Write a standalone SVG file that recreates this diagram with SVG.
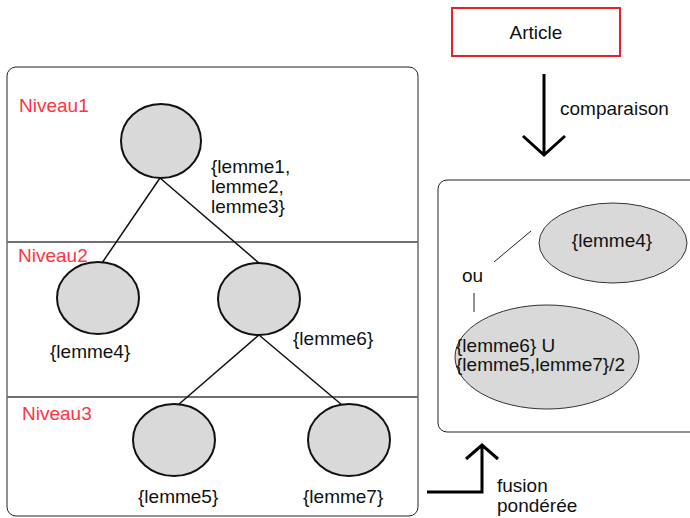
<svg xmlns="http://www.w3.org/2000/svg" width="690" height="518" viewBox="0 0 690 518">
<defs>
<style>
text{font-family:"Liberation Sans",Arial,sans-serif;font-size:19px;fill:#111}
.lvl{fill:#ff3340}
.node{fill:#d9d9d9;stroke:#111;stroke-width:2}
.res{fill:#d9d9d9;stroke:#333;stroke-width:1}
.edge{stroke:#111;stroke-width:1.5;fill:none}
.big{stroke:#000;stroke-width:3;fill:none}
.div{stroke:#707070;stroke-width:2}
</style>
</defs>
<rect width="690" height="518" fill="#fff"/>
<g id="panel-left">
<rect x="7" y="67" width="411" height="449" rx="9" fill="none" stroke="#222" stroke-width="1"/>
<line class="div" x1="7" y1="242" x2="418" y2="242"/>
<line class="div" x1="7" y1="397" x2="418" y2="397"/>
<text class="lvl" x="19" y="112">Niveau1</text>
<text class="lvl" x="18" y="262">Niveau2</text>
<text class="lvl" x="22" y="420">Niveau3</text>
</g>
<g id="connectors">
<line class="edge" x1="160" y1="178" x2="102" y2="263"/>
<line class="edge" x1="160" y1="178" x2="259" y2="263"/>
<line class="edge" x1="259" y1="335" x2="178" y2="405"/>
<line class="edge" x1="259" y1="335" x2="342" y2="405"/>
<path class="big" d="M544 74 V155 M523 136 L544 155 L565 136"/>
<path class="big" d="M427 492 H482 V445 M466 459 L482 445 L498 459"/>
<line x1="494" y1="262" x2="531" y2="231" stroke="#222" stroke-width="1"/>
<line x1="474" y1="293" x2="474" y2="312" stroke="#222" stroke-width="1"/>
</g>
<g id="n1"><ellipse class="node" cx="161" cy="141" rx="40" ry="37"/>
<text x="211" y="173">{lemme1,</text><text x="211" y="193">lemme2,</text><text x="211" y="213">lemme3}</text></g>
<g id="n4"><ellipse class="node" cx="98" cy="298" rx="41" ry="36"/><text x="50" y="358">{lemme4}</text></g>
<g id="n6"><ellipse class="node" cx="259" cy="299" rx="41" ry="36"/><text x="293" y="345">{lemme6}</text></g>
<g id="n5"><ellipse class="node" cx="174" cy="440" rx="41" ry="36"/><text x="138" y="503">{lemme5}</text></g>
<g id="n7"><ellipse class="node" cx="349" cy="440" rx="41" ry="36"/><text x="303" y="503">{lemme7}</text></g>
<g id="article"><rect x="452" y="8" width="168" height="48" fill="#fff" stroke="#e8202a" stroke-width="2"/>
<text x="536" y="39" text-anchor="middle">Article</text></g>
<text x="560" y="115">comparaison</text>
<g id="result">
<rect x="438" y="180" width="262" height="252" rx="9" fill="none" stroke="#222" stroke-width="1"/>
<text x="462" y="282">ou</text>
</g>
<g id="r4"><ellipse class="res" cx="613" cy="243" rx="74" ry="40"/><text x="612" y="247" text-anchor="middle">{lemme4}</text></g>
<g id="r6"><ellipse class="res" cx="547" cy="357" rx="92" ry="52"/>
<text x="456" y="352">{lemme6} U</text><text x="456" y="371">{lemme5,lemme7}/2</text></g>
<g id="fusion"><text x="497" y="492">fusion</text><text x="497" y="512">pondérée</text></g>
</svg>
